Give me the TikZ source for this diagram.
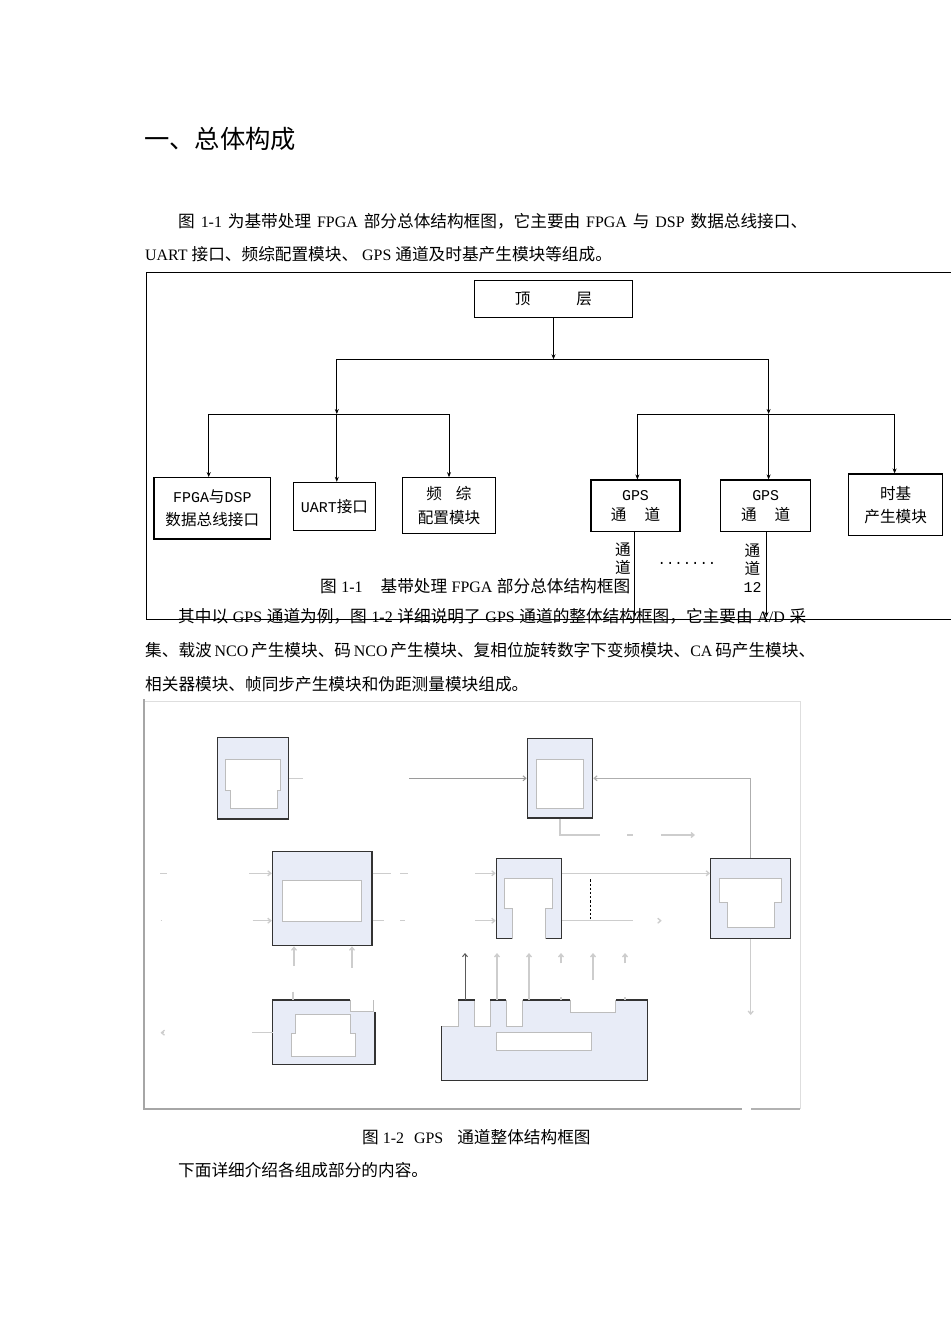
\documentclass[tikz,border=0pt]{standalone}
\usepackage{fontspec}
\setmainfont{Liberation Serif}
\newfontfamily\cjkf[Scale=1.045]{Noto Sans CJK SC}
\newfontfamily\monof{Liberation Mono}
\usetikzlibrary{arrows.meta}
\newcommand\zh[1]{{\cjkf #1}}
\newcommand\mo[1]{{\fontsize{15}{24}\selectfont\monof #1}}
\definecolor{boxfill}{HTML}{E8ECF7}
\definecolor{boxdark}{HTML}{333333}
\definecolor{innergray}{HTML}{BDBDBD}
\definecolor{lgray}{HTML}{CDCDCD}
\definecolor{mgray}{HTML}{9A9A9A}
\definecolor{dgray}{HTML}{5A5A5A}
\tikzset{
  txt/.style={anchor=base west, inner sep=0, font=\fontsize{16}{20}\selectfont},
  bx/.style={draw=black, line width=1.1bp, inner sep=0, align=center,
    font=\fontsize{15}{24}\selectfont\cjkf},
  ln/.style={draw=black, line width=0.8bp},
  ar/.style={ln, -{Stealth[length=5bp,width=4bp]}},
  gb/.style={draw=boxdark, fill=boxfill, line width=1.2bp, inner sep=0},
  inner/.style={fill=white, draw=innergray, line width=0.8bp},
  cl/.style={draw=lgray, line width=1.3bp},
  ca/.style={cl, -{Straight Barb[length=3bp,width=5bp]}},
}
\begin{document}
\begin{tikzpicture}[x=1bp,y=-1bp]
\useasboundingbox (0,0) rectangle (950,1344);
\fill[white] (0,0) rectangle (950,1344);

% ---------- heading and paragraph 1 ----------
\node[txt, font=\fontsize{24.3}{30}\selectfont\cjkf] (head) at (144,148.5) {一、总体构成};
\node[txt] (p1a) at (178,228) {\makebox[629bp][s]{\zh{图} 1-1 \zh{为基带处理} FPGA \zh{部分总体结构框图，它主要由} FPGA \zh{与} DSP \zh{数据总线接口、}}};
\node[txt] (p1b) at (145,261) {UART \zh{接口、频综配置模块、} GPS \zh{通道及时基产生模块等组成。}};

% ---------- figure 1-1 ----------
\draw[ln, line width=1bp] (952,272.7) -- (146,272.7) -- (146,619) -- (952,619);

\node[bx, minimum width=158.6bp, minimum height=37.3bp] (top) at (553.5,298.7) {顶\hspace{46bp}层};
\node[bx, minimum width=116.7bp, minimum height=61.3bp] (fpga) at (212.3,508.3) {\mo{FPGA}与\mo{DSP}\\数据总线接口};
\node[bx, minimum width=82.4bp, minimum height=47.7bp] (uart) at (334.5,506.2) {\mo{UART}接口};
\node[bx, minimum width=93.4bp, minimum height=55.6bp] (pz) at (449,505.5) {频\hspace{14bp}综\\配置模块};
\node[bx, minimum width=89bp, minimum height=51.7bp, font=\fontsize{15}{20}\selectfont\cjkf] (gps1) at (635.5,505.8) {\mo{GPS}\\通\hspace{18bp}道};
\node[bx, minimum width=90bp, minimum height=51.7bp, font=\fontsize{15}{20}\selectfont\cjkf] (gps2) at (765.7,505.8) {\mo{GPS}\\通\hspace{18bp}道};
\node[bx, minimum width=94bp, minimum height=61.7bp, font=\fontsize{15}{23.4}\selectfont\cjkf] (sj) at (895.7,504.8) {时基\\产生模块};

\coordinate (j0) at (553.5,359.3);
\coordinate (jl) at (336.8,359.3);
\coordinate (jr) at (768.6,359.3);
\coordinate (bl) at (336.8,414);
\coordinate (br) at (768.6,414);
\coordinate (bl1) at (208.7,414);
\coordinate (bl2) at (449,414);
\coordinate (br1) at (637.4,414);
\coordinate (br2) at (894.6,414);
\draw[ar] (top.south) -- (j0);
\draw[ln] (jl) -- (jr);
\draw[ar] (jl) -- (bl);
\draw[ar] (jr) -- (br);
\draw[ln] (bl1) -- (bl2);
\draw[ln] (br1) -- (br2);
\draw[ar] (bl1) -- (bl1 |- fpga.north);
\draw[ar] (bl) -- (bl |- uart.north);
\draw[ar] (bl2) -- (bl2 |- pz.north);
\draw[ar] (br1) -- (br1 |- gps1.north);
\draw[ar] (br) -- (br |- gps2.north);
\draw[ar] (br2) -- (br2 |- sj.north);
\coordinate (e1) at (634.8,617);
\coordinate (e2) at (766.5,617);
\draw[ar] (e1 |- gps1.south) -- (e1);
\draw[ar] (e2 |- gps2.south) -- (e2);

\node[inner sep=0, align=center, font=\fontsize{15}{18}\selectfont\cjkf] (ch1) at (623,559) {通\\道};
\node[inner sep=0, align=center, font=\fontsize{15}{18}\selectfont\cjkf] (ch12) at (752.5,568) {通\\道\\\mo{12}};
\node[inner sep=0, font=\fontsize{14}{16}\selectfont\monof] (dots) at (687,563) {.......};

\node[txt] (cap1) at (320,592) {\makebox[310bp][s]{\zh{图} 1-1\hspace{18bp}\zh{基带处理} FPGA \zh{部分总体结构框图}}};

% ---------- paragraph 2 ----------
\node[txt] (p2a) at (178,622) {\makebox[628bp][s]{\zh{其中以} GPS \zh{通道为例，图} 1-2 \zh{详细说明了} GPS \zh{通道的整体结构框图，它主要由} A/D \zh{采}}};
\node[txt] (p2b) at (145,656) {\makebox[670bp][s]{\zh{集、载波} NCO \zh{产生模块、码} NCO \zh{产生模块、复相位旋转数字下变频模块、}CA \zh{码产生模块、}}};
\node[txt] (p2c) at (145,690) {\zh{相关器模块、帧同步产生模块和伪距测量模块组成。}};

% ---------- figure 1-2 ----------
\draw[draw=black!13, line width=1bp] (144,701) -- (800,701) -- (800,1109);
\draw[draw=black!35, line width=1.1bp] (144,699) -- (144,1109) -- (742,1109);
\draw[draw=black!30, line width=1.1bp] (751,1109) -- (800,1109);

% boxes
\node[gb, minimum width=71bp, minimum height=81.7bp] (A) at (253.2,778.2) {};
\node[gb, minimum width=65.4bp, minimum height=79.3bp] (B) at (560,778.3) {};
\node[gb, minimum width=99.7bp, minimum height=94bp] (C) at (322.2,898.7) {};
\node[gb, minimum width=65.4bp, minimum height=80bp] (E) at (529,898.3) {};
\node[gb, minimum width=80bp, minimum height=80bp] (F) at (750.7,898.3) {};

% box D (notched)
\fill[boxfill] (272.5,1000) -- (350.3,1000) -- (350.3,1011.7) -- (375,1011.7) -- (375,1064.3) -- (272.5,1064.3) -- cycle;
\draw[innergray, line width=0.8bp] (350.3,1000) -- (350.3,1011.7) -- (373,1011.7) -- (373,1000);
\draw[boxdark, line width=1.2bp] (350.3,1000) -- (272.5,1000) -- (272.5,1064.3) -- (375,1064.3) -- (375,1011.7);

% box G (tabbed)
\fill[boxfill] (441.7,1080.7) -- (441.7,1026) -- (458.4,1026) -- (458.4,1000) -- (474.6,1000) -- (474.6,1026) -- (490.4,1026) -- (490.4,1000) -- (506.2,1000) -- (506.2,1026) -- (522.5,1026) -- (522.5,1000) -- (570.3,1000) -- (570.3,1012.3) -- (615.6,1012.3) -- (615.6,1000) -- (647.7,1000) -- (647.7,1080.7) -- cycle;
\draw[innergray, line width=0.9bp] (441.7,1026) -- (458.4,1026) -- (458.4,1000) (474.6,1000) -- (474.6,1026) -- (490.4,1026) -- (490.4,1000) (506.2,1000) -- (506.2,1026) -- (522.5,1026) -- (522.5,1000) (570.3,1000) -- (570.3,1012.3) -- (615.6,1012.3) -- (615.6,1000);
\draw[boxdark, line width=1.2bp] (441.7,1026) -- (441.7,1080.7) -- (647.7,1080.7) -- (647.7,1000) -- (615.6,1000);
\draw[boxdark, line width=1.2bp] (458.4,1000) -- (474.6,1000) (490.4,1000) -- (506.2,1000) (522.5,1000) -- (570.3,1000);

% inner white shapes
\path[inner] (225.3,759.3) -- (280.7,759.3) -- (280.7,790) -- (277.7,790) -- (277.7,808.3) -- (230.3,808.3) -- (230.3,790) -- (225.3,790) -- cycle;
\path[inner] (536.3,759.3) rectangle (583.7,808.3);
\path[inner] (282.3,880.7) rectangle (361.7,921.3);
\path[inner] (295,1014) -- (350.3,1014) -- (350.3,1033) -- (355,1033) -- (355,1056) -- (291.7,1056) -- (291.7,1033) -- (295,1033) -- cycle;
\fill[white] (504.3,878.7) -- (552.7,878.7) -- (552.7,908.3) -- (545,908.3) -- (545,939) -- (512.7,939) -- (512.7,908.3) -- (504.3,908.3) -- cycle;
\draw[innergray, line width=0.8bp] (512.7,939) -- (512.7,908.3) -- (504.3,908.3) -- (504.3,878.7) -- (552.7,878.7) -- (552.7,908.3) -- (545,908.3) -- (545,939);
\path[inner] (719.7,878.7) -- (781.7,878.7) -- (781.7,902.3) -- (774.3,902.3) -- (774.3,927.3) -- (727.7,927.3) -- (727.7,902.3) -- (719.7,902.3) -- cycle;
\path[inner] (496.8,1032.3) rectangle (591.3,1050);

% connectors
\coordinate (a1) at (302.7,778.2);
\draw[cl] (A.east) -- (a1);
\coordinate (bin) at (409,778.3);
\draw[ca, draw=mgray, line width=1bp] (bin) -- (B.west);
\coordinate (fb) at (750.7,778.3);
\draw[ca, draw=mgray!80, line width=1.1bp] (F.north) -- (fb) -- (B.east);
\coordinate (b2) at (600,835);
\coordinate (b3) at (627.3,835);
\coordinate (b4) at (633.3,835);
\coordinate (b5) at (661,835);
\coordinate (b6) at (695,835);
\draw[cl] (B.south) |- (b2);
\draw[cl] (b3) -- (b4);
\draw[ca] (b5) -- (b6);

\coordinate (ci1) at (249.3,873.3);
\coordinate (ci2) at (252.7,920.7);
\draw[cl] (160,873.3) -- (166.7,873.3);
\draw[cl] (160.5,920.7) -- (161.8,920.7);
\draw[ca] (ci1) -- (ci1 -| C.west);
\draw[ca] (ci2) -- (ci2 -| C.west);
\coordinate (co1) at (391,873.3);
\coordinate (co2) at (383.7,920.7);
\draw[cl] (co1 -| C.east) -- (co1);
\draw[cl] (400,873.3) -- (408.3,873.3);
\draw[cl] (co2 -| C.east) -- (co2);
\draw[cl] (400,920.7) -- (405,920.7);
\coordinate (cu1) at (294,966);
\coordinate (cu2) at (352,967.7);
\draw[ca] (cu1) -- (cu1 |- C.south);
\draw[ca] (cu2) -- (cu2 |- C.south);

\coordinate (ei1) at (475,873.3);
\coordinate (ei2) at (475,920.7);
\draw[ca] (ei1) -- (ei1 -| E.west);
\draw[ca] (ei2) -- (ei2 -| E.west);
\draw[ca] (ei1 -| E.east) -- (ei1 -| F.west);
\coordinate (eo2) at (633.3,920.7);
\draw[cl] (ei2 -| E.east) -- (eo2);
\draw[ca] (659.5,920.7) -- (661.7,920.7);
\draw[black, line width=0.9bp, dash pattern=on 2.2bp off 2bp] (590.3,879.3) -- (590.3,920.7);

\coordinate (fd) at (750.7,1015);
\draw[ca] (F.south) -- (fd);

% D connectors
\coordinate (dl) at (252,1032.7);
\draw[cl] (dl) -- (dl -| 272.5,0);
\draw[ca] (163.5,1032.7) -- (160.5,1032.7);
\coordinate (du) at (293,991.7);
\draw[cl] (du) -- (293,1000);

% G up arrows
\coordinate (g1) at (465,953);
\coordinate (g2) at (497,953);
\coordinate (g3) at (529,953);
\coordinate (g4) at (561,953);
\coordinate (g5) at (593,953);
\coordinate (g6) at (625,953);
\draw[ca, draw=dgray, line width=1bp] (465,1000) -- (g1);
\draw[ca] (497,1000) -- (g2);
\draw[ca] (529,1000) -- (g3);
\draw[ca] (561,963.3) -- (g4);
\draw[cl] (561,997) -- (561,1000);
\draw[ca] (593,980) -- (g5);
\draw[ca] (625,963.3) -- (g6);
\draw[cl] (625,997) -- (625,1000);

% ---------- caption 2 and last line ----------
\node[txt] (cap2) at (362,1143) {\zh{图} 1-2\hspace{10bp}GPS\hspace{14bp}\zh{通道整体结构框图}};
\node[txt] (p3) at (178,1176) {\zh{下面详细介绍各组成部分的内容。}};
\end{tikzpicture}
\end{document}
